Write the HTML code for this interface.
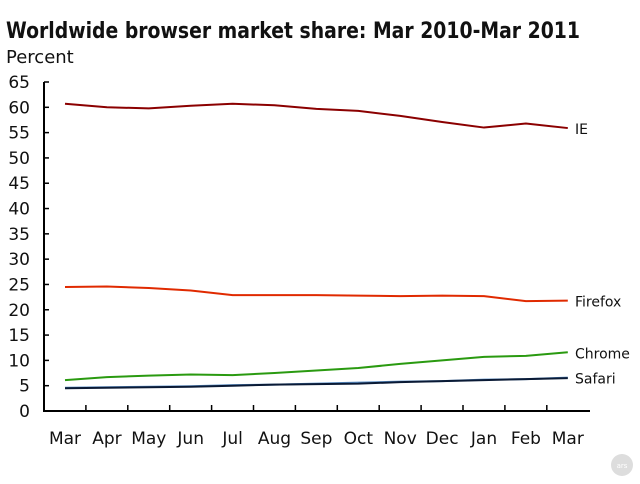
<!DOCTYPE html>
<html><head><meta charset="utf-8"><style>
body{margin:0;background:#fff;width:640px;height:480px;overflow:hidden;font-family:"DejaVu Sans","Liberation Sans",sans-serif}
</style></head><body>
<svg width="640" height="480">
<text x="6" y="38" font-size="22" font-weight="bold" fill="#111" textLength="574" lengthAdjust="spacingAndGlyphs">Worldwide browser market share: Mar 2010-Mar 2011</text>
<text x="6" y="63" font-size="18" fill="#111">Percent</text>
<g id="axes"></g><g id="series"></g>
<g><circle cx="622" cy="465" r="11" fill="#ddd"/><text x="622" y="468" font-size="7" text-anchor="middle" fill="#fff">ars</text></g>
</svg>
<script>
const months=["Mar","Apr","May","Jun","Jul","Aug","Sep","Oct","Nov","Dec","Jan","Feb","Mar"];
const yTicks=[0,5,10,15,20,25,30,35,40,45,50,55,60,65];
const ie=[60.7,60.0,59.8,60.3,60.7,60.4,59.7,59.3,58.3,57.1,56.0,56.8,55.9];
const firefox=[24.5,24.6,24.3,23.8,22.9,22.9,22.9,22.8,22.7,22.8,22.7,21.7,21.8];
const chrome=[6.1,6.7,7.0,7.2,7.1,7.5,8.0,8.5,9.3,10.0,10.7,10.9,11.6];
const safari=[4.6,4.7,4.8,4.9,5.1,5.2,5.4,5.6,5.8,5.9,6.2,6.3,6.6];
const other=[4.5,4.6,4.7,4.8,5.0,5.2,5.3,5.4,5.7,5.9,6.1,6.3,6.5];
const NS="http://www.w3.org/2000/svg";
const X=i=>65+i*41.9, Y=v=>411-v*(329/65);
function mk(t,a,p){const e=document.createElementNS(NS,t);for(const k in a)e.setAttribute(k,a[k]);p.appendChild(e);return e;}
const ax=document.getElementById('axes'),sg=document.getElementById('series');
let l=mk('line',{x1:44,y1:82,x2:44,y2:412,stroke:'#000','stroke-width':2},ax);


l=mk('line',{x1:43,y1:411,x2:590,y2:411,stroke:'#000','stroke-width':2},ax);


yTicks.forEach(v=>{mk('line',{x1:44,y1:Y(v),x2:49,y2:Y(v),stroke:'#000','stroke-width':1.5},ax);
const t=mk('text',{x:30,y:Y(v)+6,'font-size':17,'text-anchor':'end',fill:'#111'},ax);t.textContent=v;

});
months.forEach((m,i)=>{if(i>0)mk('line',{x1:X(i)-21,y1:411,x2:X(i)-21,y2:405,stroke:'#000','stroke-width':1.5},ax);
const t=mk('text',{x:X(i),y:444,'font-size':17,'text-anchor':'middle',fill:'#111'},ax);t.textContent=m;

});
const ser=[[ie,'#8b0000','IE'],[firefox,'#e02a00','Firefox'],[chrome,'#2a9a10','Chrome'],[safari,'#5b90c8','Safari'],[other,'#0a1a35',null]];
ser.forEach(([d,c,n])=>{const p=mk('polyline',{points:d.map((v,i)=>X(i)+','+Y(v)).join(' '),fill:'none',stroke:c,'stroke-width':2},sg);


if(n){const t=mk('text',{x:575,y:Y(d[12])+6,'font-size':14,fill:'#111'},sg);t.textContent=n;

}});
</script>
</body></html>
